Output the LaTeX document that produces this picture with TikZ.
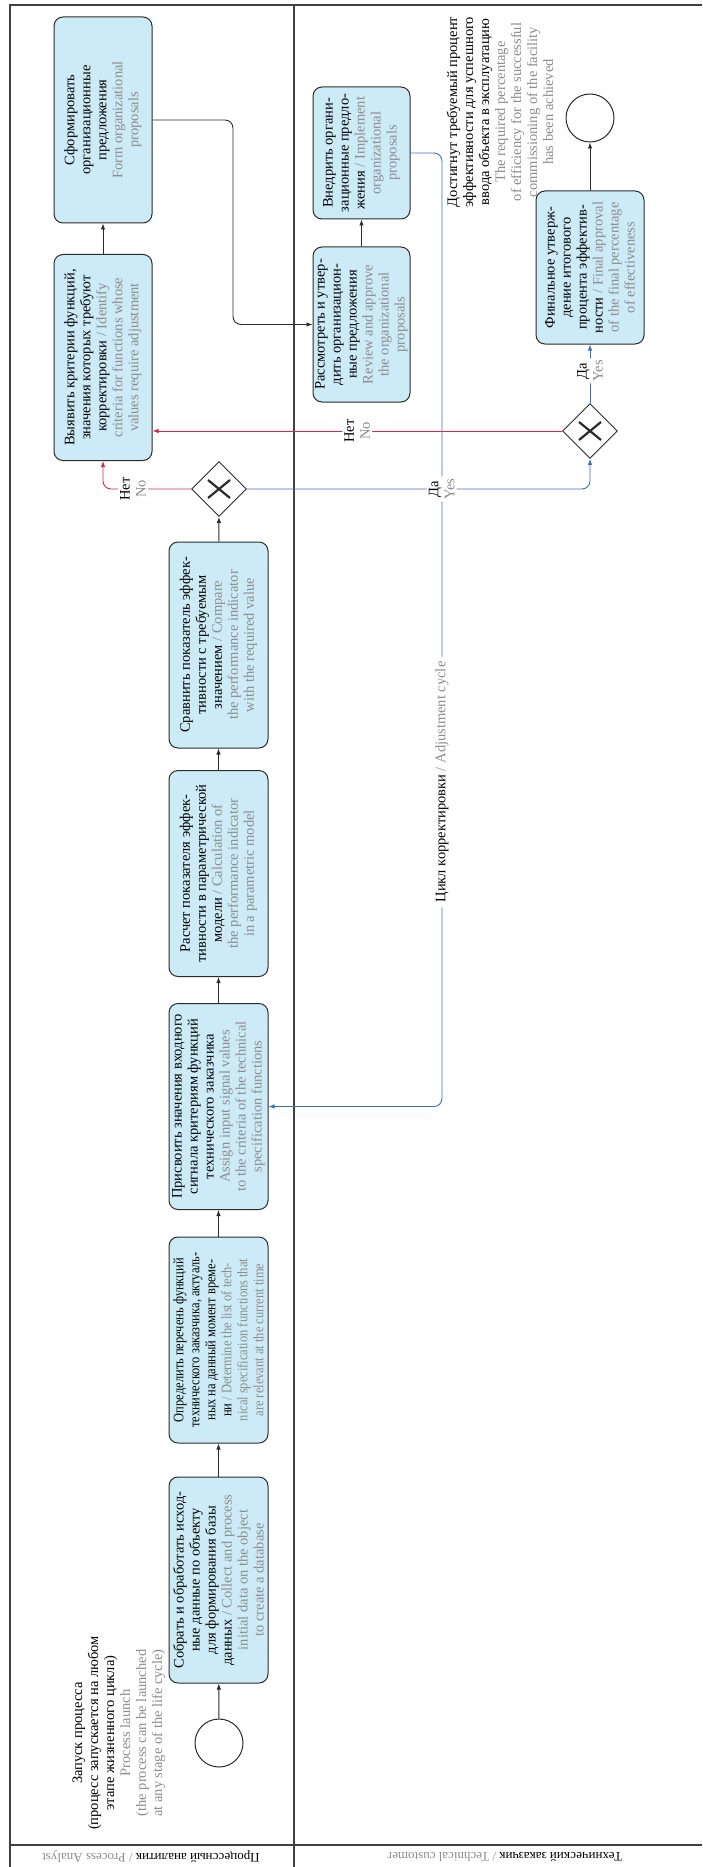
\documentclass[tikz,border=0pt]{standalone}
\usepackage{fontspec}
\setmainfont{Liberation Serif}
\newfontfamily\narrowserif[FakeStretch=0.86]{Liberation Serif}
\usetikzlibrary{shapes.geometric, arrows.meta, positioning}

\definecolor{boxfill}{HTML}{CDEBF7}
\definecolor{boxline}{HTML}{2B2B2B}
\definecolor{laneline}{HTML}{404040}
\definecolor{engray}{HTML}{8C8C8C}
\definecolor{noline}{HTML}{E0234E}
\definecolor{yesline}{HTML}{3B6FC0}
\newcommand{\engl}[1]{{\color{engray}#1}}
\newcommand{\boxfont}{\fontsize{14.5}{16}\selectfont}

\begin{document}
\begin{tikzpicture}[x=1pt, y=-1pt,
    task/.style={rectangle, rotate=90, draw=boxline, fill=boxfill, line width=1pt,
                 rounded corners=9pt, align=center, inner sep=1pt, font=\boxfont,
                 minimum width=206pt, minimum height=99pt},
    gateway/.style={diamond, draw=boxline, fill=white, line width=0.9pt,
                    minimum width=55pt, minimum height=55pt, inner sep=0pt,
                    path picture={
                      \draw[line width=2.2pt, boxline]
                        ([shift={(-11pt,-9pt)}]path picture bounding box.center) --
                        ([shift={(11pt,9pt)}]path picture bounding box.center)
                        ([shift={(-11pt,9pt)}]path picture bounding box.center) --
                        ([shift={(11pt,-9pt)}]path picture bounding box.center);}},
    event/.style={circle, draw=boxline, fill=white, line width=1pt, minimum size=48pt, inner sep=0pt},
    note/.style={rotate=90, align=center, font=\boxfont},
    branch/.style={rotate=90, fill=white, align=center, inner sep=2pt, font=\boxfont},
    lanehead/.style={rotate=180, font=\fontsize{13}{14}\selectfont, inner sep=0pt},
    lane/.style={draw=laneline, line width=1.2pt},
    flow/.style={draw=boxline, line width=0.9pt, -{Latex[length=6pt,width=4.5pt]}},
    noflow/.style={flow, draw=noline, rounded corners=8pt},
    yesflow/.style={flow, draw=yesline, rounded corners=8pt}]

\useasboundingbox (0,0) rectangle (702,1867);

% lanes
\draw[lane] (10,1867) -- (10,5) -- (702,5);
\draw[lane] (294,5) -- (294,1867);
\draw[lane] (10,1845) -- (702,1845);
\node[lanehead] (analyst) at (151,1857) {Процессный аналитик \engl{/ Process Analyst}};
\node[lanehead] (customer) at (505,1857) {Технический заказчик \engl{/ Technical customer}};

% process analyst
\node[event] (start) at (219,1743) {};
\node[note] (launch) at (119,1733) {Запуск процесса\\(процесс запускается на любом\\этапе жизненного цикла)\\\engl{Process launch}\\\engl{(the process can be launched}\\\engl{at any stage of the life cycle)}};
\node[task] (collect) at (218.5,1580) {Собрать и обработать исход-\\ные данные по объекту\\для формирования базы\\данных \engl{/ Collect and process}\\\engl{initial data on the object}\\\engl{to create a database}};
\node[task, font=\narrowserif\boxfont] (define) at (218.5,1340) {Определить перечень функций\\технического заказчика, актуаль-\\ных на данный момент време-\\ни \engl{/ Determine the list of tech-}\\\engl{nical specification functions that}\\\engl{are relevant at the current time}};
\node[task] (assign) at (218.5,1106.5) {Присвоить значения входного\\сигнала критериям функций\\технического заказчика\\\engl{Assign input signal values}\\\engl{to the criteria of the technical}\\\engl{specification functions}};
\node[task] (calc) at (218.5,873.5) {Расчет показателя эффек-\\тивности в параметрической\\модели \engl{/ Calculation of}\\\engl{the performance indicator}\\\engl{in a parametric model}};
\node[task] (compare) at (218.5,645) {Сравнить показатель эффек-\\тивности с требуемым\\значением \engl{/ Compare}\\\engl{the performance indicator}\\\engl{with the required value}};
\node[gateway] (gate1) at (219,489) {};
\node[task, minimum height=98pt] (identify) at (103,357.5) {Выявить критерии функций,\\значения которых требуют\\корректировки \engl{/ Identify}\\\engl{criteria for functions whose}\\\engl{values require adjustment}};
\node[task, minimum height=98pt] (form) at (103,120) {Сформировать\\организационные\\предложения\\\engl{Form organizational}\\\engl{proposals}};
\coordinate (turn) at (233,324.5);

% technical customer
\node[task, minimum width=155pt, minimum height=97pt] (review) at (361.5,324.5) {Рассмотреть и утвер-\\дить организацион-\\ные предложения\\\engl{Review and approve}\\\engl{the organizational}\\\engl{proposals}};
\node[task, minimum width=132pt, minimum height=97pt] (implement) at (361.5,153) {Внедрить органи-\\зационные предло-\\жения \engl{/ Implement}\\\engl{organizational}\\\engl{proposals}};
\coordinate (cycle) at (442,782);
\node[gateway] (gate2) at (590,431) {};
\node[task, minimum width=153pt, minimum height=108pt] (final) at (590,267.5) {Финальное утверж-\\дение итогового\\процента эффектив-\\ности \engl{/ Final approval}\\\engl{of the final percentage}\\\engl{of effectiveness}};
\node[event] (finish) at (590,118) {};
\node[note] (goal) at (500,112) {Достигнут требуемый процент\\эффективности для успешного\\ввода объекта в эксплуатацию\\\engl{The required percentage}\\\engl{of efficiency for the successful}\\\engl{commissioning of the facility}\\\engl{has been achieved}};

% flows
\draw[flow] (start) -- (collect);
\draw[flow] (collect) -- (define);
\draw[flow] (define) -- (assign);
\draw[flow] (assign) -- (calc);
\draw[flow] (calc) -- (compare);
\draw[flow] (compare) -- (gate1);
\draw[flow] (identify) -- (form);
\draw[flow, rounded corners=8pt] (form.south) -| (turn) -- (review);
\draw[flow] (review) -- (implement);
\draw[flow] (final) -- (finish);

\draw[yesflow] (implement.south) -| (cycle) node[branch, inner sep=5pt] (cyclab) {Цикл корректировки \engl{/ Adjustment cycle}} |- (assign);
\draw[noflow] (gate1.west) -| node[branch, pos=0.33] (no1) {Нет\\\engl{No}} (identify);
\draw[yesflow] (gate1.east) -| node[branch, pos=0.284] (yes1) {Да\\\engl{Yes}} (gate2);
\draw[noflow] (gate2.west) -- node[branch] (no2) {Нет\\\engl{No}} (gate2.west -| identify.south);
\draw[yesflow] (gate2) -- node[branch, pos=0.55] (yes2) {Да\\\engl{Yes}} (final);
\end{tikzpicture}
\end{document}
